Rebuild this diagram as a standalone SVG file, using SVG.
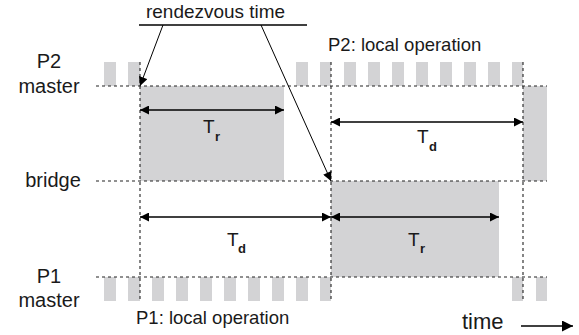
<svg xmlns="http://www.w3.org/2000/svg" width="579" height="335" viewBox="0 0 579 335">
<style>
.lbl{font-family:"Liberation Sans",Arial,sans-serif;font-size:20px;fill:#1a1a1a}
.txt{font-family:"Liberation Sans",Arial,sans-serif;font-size:18.5px;fill:#1a1a1a}
.T{font-family:"Liberation Sans",Arial,sans-serif;font-size:19px;fill:#1a1a1a}
.sub{font-family:"Liberation Sans",Arial,sans-serif;font-size:13px;font-weight:bold;fill:#1a1a1a}
.blk{fill:#d3d3d5}
.dash{stroke:#222;stroke-width:1.1;stroke-dasharray:3,3;fill:none}
.arr{stroke:#000;stroke-width:1.3;fill:none}
.dbl{stroke:#000;stroke-width:1.3;fill:none;marker-start:url(#ah);marker-end:url(#ah)}
.ptr{stroke:#000;stroke-width:1;fill:none;marker-end:url(#ah)}
</style>
<defs>
<marker id="ah" viewBox="0 0 10 10" refX="10" refY="5" markerWidth="10" markerHeight="9" markerUnits="userSpaceOnUse" orient="auto-start-reverse">
<path d="M0,0 L10,5 L0,10 Z" fill="#000"/>
</marker>
<marker id="ahb" viewBox="0 0 10 10" refX="10" refY="5" markerWidth="17" markerHeight="11" markerUnits="userSpaceOnUse" orient="auto">
<path d="M0,0 L10,5 L0,10 Z" fill="#000"/>
</marker>
</defs>

<g id="p2-blocks">
<rect class="blk" x="104" y="62" width="12" height="24"/>
<rect class="blk" x="128" y="62" width="12" height="24"/>
<rect class="blk" x="296" y="62" width="12" height="24"/>
<rect class="blk" x="320" y="62" width="11" height="24"/>
<rect class="blk" x="344" y="62" width="12" height="24"/>
<rect class="blk" x="368" y="62" width="12" height="24"/>
<rect class="blk" x="392" y="62" width="12" height="24"/>
<rect class="blk" x="416" y="62" width="12" height="24"/>
<rect class="blk" x="440" y="62" width="12" height="24"/>
<rect class="blk" x="464" y="62" width="12" height="24"/>
<rect class="blk" x="488" y="62" width="12" height="24"/>
<rect class="blk" x="512" y="62" width="11" height="24"/>
</g>
<g id="p1-blocks">
<rect class="blk" x="104" y="277" width="12" height="24"/>
<rect class="blk" x="128" y="277" width="12" height="24"/>
<rect class="blk" x="152" y="277" width="12" height="24"/>
<rect class="blk" x="176" y="277" width="12" height="24"/>
<rect class="blk" x="200" y="277" width="12" height="24"/>
<rect class="blk" x="224" y="277" width="12" height="24"/>
<rect class="blk" x="248" y="277" width="12" height="24"/>
<rect class="blk" x="272" y="277" width="12" height="24"/>
<rect class="blk" x="296" y="277" width="12" height="24"/>
<rect class="blk" x="320" y="277" width="11" height="24"/>
<rect class="blk" x="512" y="277" width="11" height="24"/>
<rect class="blk" x="536" y="277" width="11" height="24"/>
</g>
<g id="rendezvous-blocks">
<rect class="blk" x="140" y="86" width="144" height="95"/>
<rect class="blk" x="523" y="86" width="24" height="95"/>
<rect class="blk" x="331" y="181" width="168" height="96"/>
</g>

<g id="grid">
<line class="dash" x1="96" y1="86" x2="547" y2="86"/>
<line class="dash" x1="96" y1="181" x2="547" y2="181"/>
<line class="dash" x1="96" y1="277" x2="547" y2="277"/>
<line class="dash" x1="140" y1="62" x2="140" y2="301"/>
<line class="dash" x1="331" y1="62" x2="331" y2="301"/>
<line class="dash" x1="523" y1="62" x2="523" y2="301"/>
</g>

<g id="labels">
<text class="lbl" x="49" y="68" text-anchor="middle">P2</text>
<text class="lbl" x="49" y="93" text-anchor="middle">master</text>
<text class="lbl" x="53" y="187" text-anchor="middle">bridge</text>
<text class="lbl" x="49" y="283" text-anchor="middle">P1</text>
<text class="lbl" x="49" y="307" text-anchor="middle">master</text>
<text class="txt" x="328" y="51">P2: local operation</text>
<text class="txt" x="136" y="324">P1: local operation</text>
<text class="lbl" x="462" y="329" style="font-size:22px">time</text>
</g>

<g id="rendezvous">
<text class="txt" x="146" y="18" textLength="139" lengthAdjust="spacingAndGlyphs">rendezvous time</text>
<line class="arr" x1="139" y1="25" x2="307" y2="25"/>
</g>

<g id="connectors">
<line class="ptr" x1="163" y1="25" x2="140" y2="86"/>
<line class="ptr" x1="261" y1="25" x2="331" y2="181"/>
<line class="dbl" x1="140" y1="110" x2="284" y2="110"/>
<line class="dbl" x1="331" y1="122" x2="523" y2="122"/>
<line class="dbl" x1="140" y1="217" x2="331" y2="217"/>
<line class="dbl" x1="331" y1="217" x2="499" y2="217"/>
<line class="arr" x1="521" y1="326" x2="573" y2="326" style="marker-end:url(#ahb)"/>
</g>

<g id="durations">
<text class="T" x="203" y="133">T</text><text class="sub" x="215" y="141">r</text>
<text class="T" x="417" y="143">T</text><text class="sub" x="429" y="151">d</text>
<text class="T" x="227" y="246">T</text><text class="sub" x="238" y="253">d</text>
<text class="T" x="408" y="246">T</text><text class="sub" x="420" y="253">r</text>
</g>
</svg>
